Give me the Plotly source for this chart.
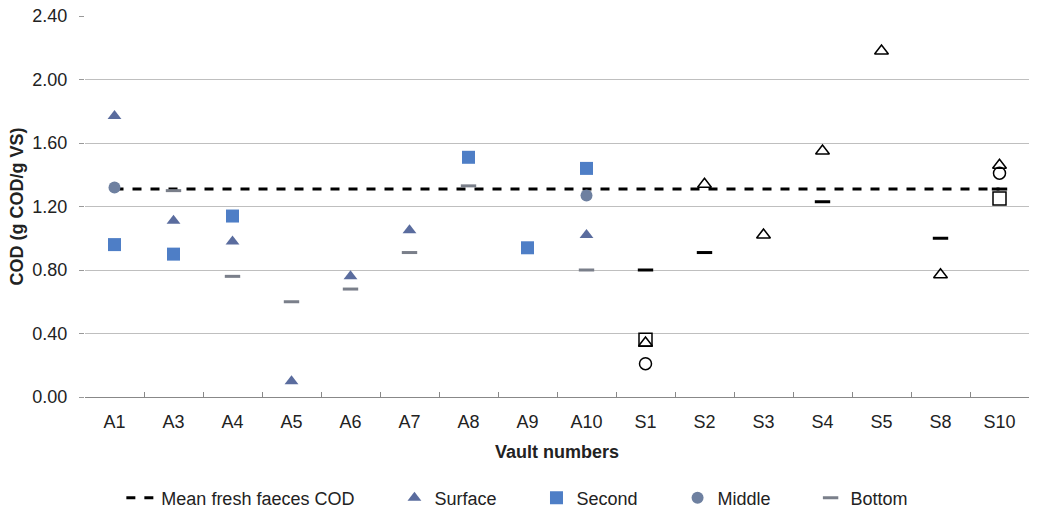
import plotly.graph_objects as go

categories = ["A1", "A3", "A4", "A5", "A6", "A7", "A8", "A9", "A10",
              "S1", "S2", "S3", "S4", "S5", "S8", "S10"]
a_cats = categories[:9]
s_cats = categories[9:]

surface_A = [1.77, 1.11, 0.98, 0.10, 0.76, 1.05, None, None, 1.02]
second_A = [0.96, 0.90, 1.14, None, None, None, 1.51, 0.94, 1.44]
middle_A = [1.32, None, None, None, None, None, None, None, 1.27]
bottom_A = [None, 1.30, 0.76, 0.60, 0.68, 0.91, 1.33, None, 0.80]

surface_S = [0.34, 1.34, 1.02, 1.55, 2.18, 0.77, 1.46]
second_S = [0.36, None, None, None, None, None, 1.25]
middle_S = [0.21, None, None, None, None, None, 1.41]
bottom_S = [0.80, 0.91, None, 1.23, None, 1.00, 1.31]

mean_cod = 1.31

y_ticks = [0.0, 0.4, 0.8, 1.2, 1.6, 2.0, 2.4]
y_tick_text = ["0.00", "0.40", "0.80", "1.20", "1.60", "2.00", "2.40"]

FONT = "Liberation Sans, Arial, sans-serif"
TXT = "#222222"
GAP = "\u00a0" * 7

fig = go.Figure()

fig.add_trace(go.Scatter(
    x=[categories[0], categories[-1]], y=[mean_cod, mean_cod],
    mode="lines", name="Mean fresh faeces COD" + GAP,
    line=dict(color="black", width=3, dash="dash"),
))

# Filled markers (A vaults)
fig.add_trace(go.Scatter(
    x=a_cats, y=surface_A, mode="markers", name="Surface" + GAP,
    marker=dict(symbol="triangle-up", size=12, color="#5a6c9e"),
))
fig.add_trace(go.Scatter(
    x=a_cats, y=second_A, mode="markers", name="Second" + GAP,
    marker=dict(symbol="square", size=13, color="#4e7ec6"),
))
fig.add_trace(go.Scatter(
    x=a_cats, y=middle_A, mode="markers", name="Middle" + GAP,
    marker=dict(symbol="circle", size=12, color="#6e80a0"),
))
fig.add_trace(go.Scatter(
    x=a_cats, y=bottom_A, mode="markers", name="Bottom",
    marker=dict(symbol="line-ew", size=11, color="#7a7f8a",
                line=dict(width=3, color="#7a7f8a")),
))

# Open markers (S vaults)
fig.add_trace(go.Scatter(
    x=s_cats, y=surface_S, mode="markers", showlegend=False,
    marker=dict(symbol="triangle-up-open", size=12, color="black",
                line=dict(width=1.5, color="black")),
))
fig.add_trace(go.Scatter(
    x=s_cats, y=second_S, mode="markers", showlegend=False,
    marker=dict(symbol="square-open", size=13, color="black",
                line=dict(width=1.5, color="black")),
))
fig.add_trace(go.Scatter(
    x=s_cats, y=middle_S, mode="markers", showlegend=False,
    marker=dict(symbol="circle-open", size=12, color="black",
                line=dict(width=1.5, color="black")),
))
fig.add_trace(go.Scatter(
    x=s_cats, y=bottom_S, mode="markers", showlegend=False,
    marker=dict(symbol="line-ew", size=11, color="black",
                line=dict(width=3, color="black")),
))

fig.update_layout(
    width=1040, height=513,
    margin=dict(l=85, r=11, t=16, b=116, autoexpand=False),
    paper_bgcolor="white", plot_bgcolor="white",
    font=dict(family=FONT, size=18, color=TXT),
    legend=dict(orientation="h", x=0.458, xanchor="center",
                yref="container", y=0.029, yanchor="middle",
                font=dict(family=FONT, size=18, color=TXT),
                itemwidth=30),
    xaxis=dict(
        type="category", categoryorder="array", categoryarray=categories,
        range=[-0.5, len(categories) - 0.5], autorange=False,
        tickson="boundaries", ticks="inside", ticklen=5, tickcolor="#888888",
        showline=True, linecolor="#888888", linewidth=1,
        showgrid=False, zeroline=False,
        tickfont=dict(family=FONT, size=18, color=TXT),
        ticklabelstandoff=8,
        title=dict(text="<b>Vault numbers</b>", standoff=14,
                   font=dict(family=FONT, size=18, color=TXT)),
    ),
    yaxis=dict(
        range=[0, 2.4], autorange=False, tickvals=y_ticks, ticktext=y_tick_text,
        ticks="outside", ticklen=5, tickcolor="#999999",
        showgrid=True, gridcolor="#bfbfbf", gridwidth=1,
        zeroline=False, showline=False,
        tickfont=dict(family=FONT, size=18, color=TXT),
        ticklabelstandoff=8,
        title=dict(text="<b>COD (g COD/g VS)</b>", standoff=4,
                   font=dict(family=FONT, size=18, color=TXT)),
    ),
)

fig.write_html(
    "out.html",
    config={"displayModeBar": False},
    post_script="document.body.style.margin='0';document.body.style.overflow='hidden';",
)
